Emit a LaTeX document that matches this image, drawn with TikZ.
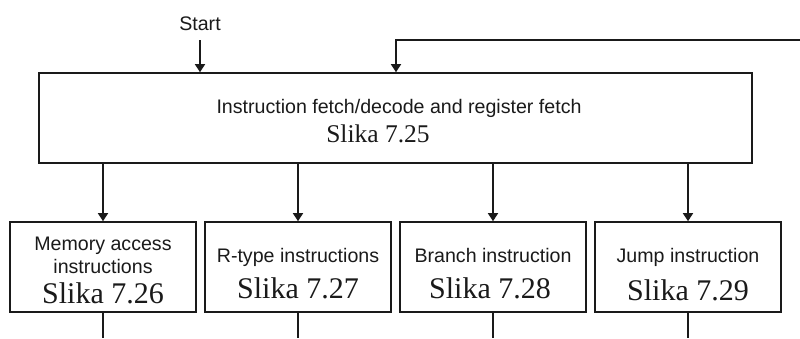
\documentclass[tikz,border=0pt]{standalone}
\usepackage{fontspec}
\setmainfont{Liberation Serif}
\setsansfont{Liberation Sans}
\usetikzlibrary{arrows.meta}
\definecolor{ink}{HTML}{1A1A1A}
\begin{document}
\begin{tikzpicture}[x=1pt,y=-1pt,
  box/.style={draw=ink,line width=1.6pt,rectangle,inner sep=0pt,minimum height=90pt},
  sans/.style={anchor=base,inner sep=0pt,text=ink,font=\sffamily\fontsize{19.6}{22}\selectfont},
  serifbig/.style={anchor=base,inner sep=0pt,text=ink,font=\fontsize{30}{32}\selectfont},
  serifmid/.style={anchor=base,inner sep=0pt,text=ink,font=\fontsize{25.5}{28}\selectfont},
  conn/.style={draw=ink,line width=1.6pt},
  arr/.style={conn,-{Triangle[length=8pt,width=10pt]}}]
\useasboundingbox (0,0) rectangle (800,338);
\fill[white] (0,0) rectangle (800,338);
% boxes
\node[box,minimum width=713pt] (top) at (395.5,118) {};
\node[box,minimum width=186pt] (b1) at (103,267) {};
\node[box,minimum width=186pt] (b2) at (298,267) {};
\node[box,minimum width=186pt] (b3) at (493,267) {};
\node[box,minimum width=186pt] (b4) at (688,267) {};
% texts
\node[sans] (tstart) at (200,30) {Start};
\node[sans] (t0a) at (399,113) {Instruction fetch/decode and register fetch};
\node[serifmid] (t0b) at (378,142) {Slika 7.25};
\node[sans] (t1a) at (103,250) {Memory access};
\node[sans] (t1b) at (103,273) {instructions};
\node[serifbig] (t1c) at (103,303) {Slika 7.26};
\node[sans] (t2a) at (298,262) {R-type instructions};
\node[serifbig] (t2b) at (298,298) {Slika 7.27};
\node[sans] (t3a) at (493,262) {Branch instruction};
\node[serifbig] (t3b) at (490,298) {Slika 7.28};
\node[sans] (t4a) at (688,262) {Jump instruction};
\node[serifbig] (t4b) at (688,300) {Slika 7.29};
% start arrow
\coordinate (s0) at (200,40);
\draw[arr] (s0) -- (s0 |- top.north);
% feedback
\coordinate (fb) at (800,40);
\coordinate (fbc) at (396,40);
\draw[arr] (fb) -- (fbc) -- (fbc |- top.north);
% down arrows
\draw[arr] (b1.north |- top.south) -- (b1.north);
\draw[arr] (b2.north |- top.south) -- (b2.north);
\draw[arr] (b3.north |- top.south) -- (b3.north);
\draw[arr] (b4.north |- top.south) -- (b4.north);
% outgoing lines
\coordinate (o1) at (103,338);
\coordinate (o2) at (298,338);
\coordinate (o3) at (493,338);
\coordinate (o4) at (688,338);
\draw[conn] (b1.south) -- (o1);
\draw[conn] (b2.south) -- (o2);
\draw[conn] (b3.south) -- (o3);
\draw[conn] (b4.south) -- (o4);
\end{tikzpicture}
\end{document}
